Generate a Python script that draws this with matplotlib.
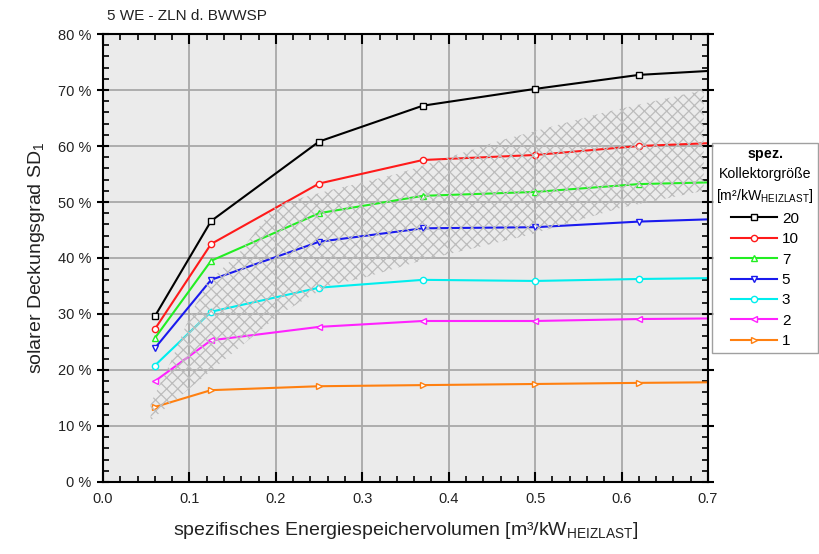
import numpy as np
import matplotlib.pyplot as plt
from matplotlib.patches import Polygon
from matplotlib.ticker import MultipleLocator, FuncFormatter

plt.rcParams['font.family'] = ['Liberation Sans', 'DejaVu Sans']
plt.rcParams['mathtext.fontset'] = 'custom'
plt.rcParams['mathtext.rm'] = 'Liberation Sans'
plt.rcParams['mathtext.bf'] = 'Liberation Sans:bold'
plt.rcParams['hatch.linewidth'] = 0.9

# spezifisches Speichervolumen [m3/kW]
volumen = [0.06, 0.125, 0.25, 0.37, 0.5, 0.62, 0.7]

# solarer Deckungsgrad [%] je Kollektorgroesse
sd_20 = [29.6, 46.6, 60.8, 67.2, 70.2, 72.7, 73.4]
sd_10 = [27.3, 42.5, 53.3, 57.5, 58.4, 60.0, 60.5]
sd_7 = [25.7, 39.5, 48.0, 51.1, 51.8, 53.2, 53.5]
sd_5 = [23.9, 36.1, 42.9, 45.3, 45.5, 46.5, 46.9]
sd_3 = [20.8, 30.4, 34.7, 36.1, 35.9, 36.25, 36.4]
sd_2 = [18.0, 25.3, 27.7, 28.75, 28.75, 29.1, 29.2]
sd_1 = [13.4, 16.4, 17.1, 17.3, 17.5, 17.7, 17.8]

labels = ['20', '10', '7', '5', '3', '2', '1']

# Streubereich (schraffiert)
band_x = [0.055, 0.08, 0.1, 0.12, 0.158, 0.2, 0.26, 0.34, 0.46, 0.58, 0.695,
          0.695, 0.6, 0.49, 0.37, 0.3, 0.26, 0.205, 0.055]
band_y = [14, 22, 29.5, 35.5, 41, 49.5, 52, 55, 61, 66, 70,
          52, 49, 44, 39.6, 36.4, 35, 30, 11]

fig = plt.figure(figsize=(8.19, 5.54), dpi=100)
ax = fig.add_axes([0.1258, 0.130, 0.7387, 0.8086])
ax.set_facecolor('#ebebeb')

series = [sd_20, sd_10, sd_7, sd_5, sd_3, sd_2, sd_1]
colors = ['black', '#ff1a1a', '#22ee22', '#1a1aee', '#00eeee', '#ff22ff', '#ff8010']
markers = ['s', 'o', '^', 'v', 'o', '<', '>']

handles = []
for y, c, m, lab in zip(series, colors, markers, labels):
    h, = ax.plot(volumen, y, color=c, lw=1.5, marker=m, markersize=4.5,
                 markerfacecolor='white', markeredgecolor=c, markeredgewidth=1.0,
                 markevery=list(range(len(volumen) - 1)), label=lab, zorder=2)
    handles.append(h)

band = Polygon(np.column_stack([band_x, band_y]), closed=True, facecolor='none',
               edgecolor='#bcbcbc', linewidth=0, hatch='xxx', zorder=3)
ax.add_patch(band)

ax.set_xlim(0, 0.7)
ax.set_ylim(0, 80)
ax.xaxis.set_major_locator(MultipleLocator(0.1))
ax.xaxis.set_minor_locator(MultipleLocator(0.02))
ax.yaxis.set_major_locator(MultipleLocator(10))
ax.yaxis.set_minor_locator(MultipleLocator(2))
ax.xaxis.set_major_formatter(FuncFormatter(lambda v, p: f'{v:.1f}'))
ax.yaxis.set_major_formatter(FuncFormatter(lambda v, p: f'{v:.0f} %'))

ax.grid(which='major', color='#a8a8a8', lw=1.3, zorder=0)
ax.set_axisbelow(True)
ax.tick_params(axis='both', which='both', top=True, right=True, labelsize=10.5,
               colors='black', labelcolor='#222222')
ax.tick_params(axis='x', which='major', direction='in', length=7, width=1.5, pad=7)
ax.tick_params(axis='x', which='minor', direction='in', length=4, width=1.2)
ax.tick_params(axis='y', which='major', direction='inout', length=9, width=1.5, pad=4)
ax.tick_params(axis='y', which='minor', direction='in', length=4, width=1.2)
for s in ax.spines.values():
    s.set_linewidth(1.5)

ax.set_xlabel(r'spezifisches Energiespeichervolumen [m³/kW$_\mathregular{HEIZLAST}$]',
              fontsize=14, labelpad=10, color='#222222')
ax.set_ylabel(r'solarer Deckungsgrad SD$_\mathregular{1}$', fontsize=14, labelpad=8,
              color='#222222')
fig.text(0.131, 0.972, '5 WE - ZLN d. BWWSP', fontsize=11, ha='left', va='center',
         color='#222222')

leg = fig.legend(handles=handles, loc='upper left', bbox_to_anchor=(0.869, 0.742),
                 title='$\\mathbf{spez.}$\nKollektorgröße\n[m²/kW$_\\mathregular{HEIZLAST}$]',
                 fontsize=11, title_fontsize=10.2, frameon=True, fancybox=False,
                 edgecolor='#888888', handlelength=3.0, handletextpad=0.3,
                 labelspacing=0.42, borderpad=0.3, borderaxespad=0,
                 alignment='center')
leg.get_frame().set_linewidth(1.0)
leg.get_title().set_multialignment('center')
leg.get_title().set_linespacing(1.45)

fig.savefig('out.png', dpi=100)
